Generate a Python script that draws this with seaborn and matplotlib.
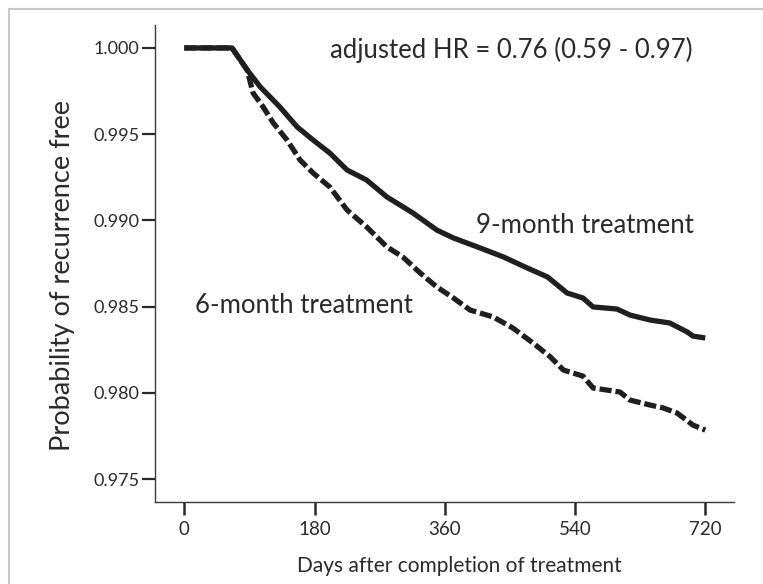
import matplotlib
matplotlib.use("Agg")
import matplotlib.pyplot as plt
from matplotlib.patches import Rectangle
import numpy as np
import pandas as pd
import seaborn as sns

# Kaplan-Meier style recurrence-free probability by treatment length
days_9m = [0, 66, 87, 105, 132, 156, 178, 201, 225, 252, 280, 316, 349, 372,
           409, 441, 474, 502, 529, 551, 565, 598, 616, 644, 671, 695, 703, 720]
surv_9m = [1.0, 1.0, 0.99872, 0.99774, 0.99658, 0.99542, 0.99466, 0.99391,
           0.99292, 0.99234, 0.99136, 0.99043, 0.98944, 0.98898, 0.98840,
           0.98788, 0.98724, 0.98672, 0.98579, 0.98550, 0.98498, 0.98486,
           0.98451, 0.98422, 0.98405, 0.98353, 0.98329, 0.98318]

days_6m = [0, 66, 87, 95, 109, 123, 142, 160, 178, 201, 225, 252, 280, 302,
           326, 349, 372, 395, 427, 454, 482, 506, 524, 551, 565, 602, 616,
           644, 662, 681, 703, 720]
surv_6m = [1.0, 1.0, 0.99872, 0.99739, 0.99658, 0.99565, 0.99466, 0.99350,
           0.99275, 0.99194, 0.99060, 0.98962, 0.98846, 0.98788, 0.98695,
           0.98614, 0.98550, 0.98480, 0.98440, 0.98376, 0.98289, 0.98208,
           0.98132, 0.98097, 0.98028, 0.98005, 0.97958, 0.97929, 0.97912,
           0.97883, 0.97813, 0.97784]

x_ticks = [0, 180, 360, 540, 720]
y_ticks = [0.975, 0.980, 0.985, 0.990, 0.995, 1.000]
y_tick_labels = ["0.975", "0.980", "0.985", "0.990", "0.995", "1.000"]

hr_text = "adjusted HR = 0.76 (0.59 - 0.97)"
label_9m = "9-month treatment"
label_6m = "6-month treatment"

sns.set_style("ticks")
plt.rcParams["font.family"] = ["Lato", "DejaVu Sans"]

TEXT = "#2a2a2a"
LINE = "#1f1f1f"

fig = plt.figure(figsize=(7.63, 5.84), dpi=100)
ax = fig.add_axes([0.2031, 0.1404, 0.962 - 0.2031, 0.9572 - 0.1404])

df9 = pd.DataFrame({"day": days_9m, "surv": surv_9m})
df6 = pd.DataFrame({"day": days_6m, "surv": surv_6m})

sns.lineplot(data=df9, x="day", y="surv", ax=ax, color=LINE, lw=3.8,
             estimator=None, sort=False, solid_capstyle="butt")
sns.lineplot(data=df6, x="day", y="surv", ax=ax, color=LINE, lw=3.8,
             estimator=None, sort=False)
ax.lines[1].set_dashes((2.3, 0.75))
ax.lines[1].set_dash_capstyle("butt")

ax.set_xlim(-40.5, 759.7)
ax.set_ylim(0.97367, 1.00133)
ax.set_xticks(x_ticks)
ax.set_xticklabels([str(t) for t in x_ticks])
ax.set_yticks(y_ticks)
ax.set_yticklabels(y_tick_labels)

sns.despine(ax=ax)
for side in ("left", "bottom"):
    ax.spines[side].set_color("#3a3a3a")
    ax.spines[side].set_linewidth(1.0)

ax.tick_params(axis="y", length=9.5, width=1.6, color="#2a2a2a", pad=1.5,
               labelsize=13, labelcolor=TEXT)
ax.tick_params(axis="x", length=9.5, width=1.8, color="#2a2a2a", pad=4,
               labelsize=13.5, labelcolor=TEXT)

ax.set_xlabel("Days after completion of treatment", fontsize=15,
              color=TEXT)
ax.set_ylabel("Probability of recurrence free", fontsize=19.5,
              color=TEXT)
ax.xaxis.set_label_coords(0.525, -0.113)
ax.yaxis.set_label_coords(-0.138, 0.474)

ax.text(451.5, 0.99988, hr_text, ha="center", va="center", fontsize=18.5,
        color=TEXT)
ax.text(553.8, 0.98968, label_9m, ha="center", va="center", fontsize=18.5,
        color=TEXT)
ax.text(165.4, 0.98509, label_6m, ha="center", va="center", fontsize=18.5,
        color=TEXT)

# light frame around the figure panel
fig.patches.append(Rectangle((8.7 / 763, -0.1), 2.0, 1.0 - 9 / 584 + 0.1,
                             transform=fig.transFigure, fill=False,
                             edgecolor="#c8c8c8", linewidth=1.5))

fig.savefig("out.png", dpi=100)
